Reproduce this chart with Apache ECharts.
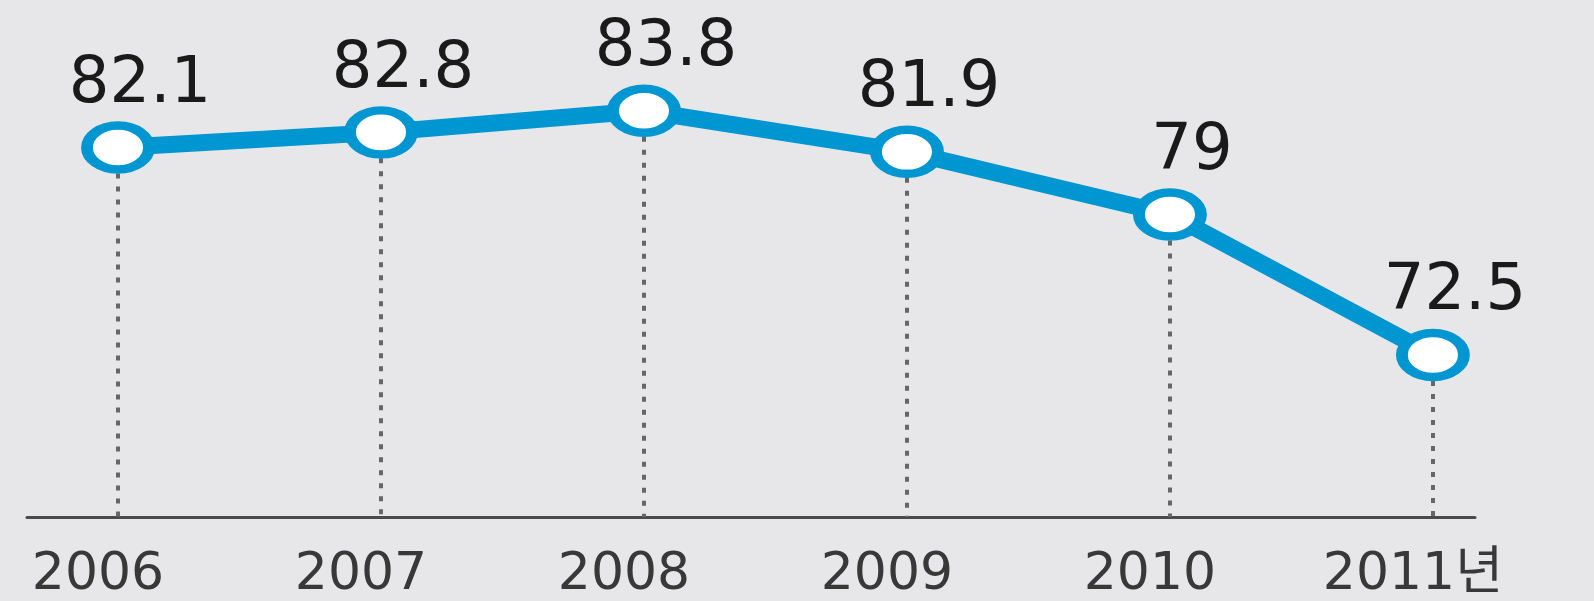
<!DOCTYPE html>
<html>
<head>
<meta charset="utf-8">
<script src="https://cdn.jsdelivr.net/npm/echarts@6/dist/echarts.min.js"></script>
<style>
html,body{margin:0;padding:0;background:#e7e7e9;}
#c{width:1594px;height:601px;}
</style>
</head>
<body>
<div id="c"></div>
<script>
const years = [2006, 2007, 2008, 2009, 2010, 2011];
const values = [82.1, 82.8, 83.8, 81.9, 79, 72.5];
const yearLabels = ['2006', '2007', '2008', '2009', '2010', '2011년'];

const yMin = 65, yMax = 88;
const blue = '#0096d1';
const pts = years.map((y, i) => [y, values[i]]);

const chart = echarts.init(document.getElementById('c'));
chart.setOption({
  backgroundColor: '#e7e7e9',
  animation: false,
  grid: { left: 27, right: 119, top: 20, bottom: 81 },
  xAxis: {
    type: 'value',
    min: 2005.654,
    max: 2011.16,
    splitLine: { show: false },
    axisTick: { show: false },
    axisLine: { show: true, lineStyle: { color: '#4a4a4a', width: 3 } },
    axisLabel: {
      customValues: years,
      margin: 32,
      formatter: v => '{a|' + yearLabels[years.indexOf(v)] + '}',
      rich: {
        a: {
          fontSize: 52,
          fontFamily: 'DejaVu Sans, Noto Sans CJK KR',
          color: '#383838',
          padding: [0, 40, 0, 0]
        }
      }
    }
  },
  yAxis: { type: 'value', min: yMin, max: yMax, show: false },
  series: [
    {
      type: 'line',
      data: pts,
      z: 1,
      showSymbol: false,
      lineStyle: { opacity: 0 },
      silent: true,
      markLine: {
        z: 1,
        silent: true,
        symbol: ['none', 'none'],
        label: { show: false },
        lineStyle: { color: '#666', width: 4, type: [5, 8] },
        data: years.map((y, i) => [{ coord: [y, values[i]] }, { coord: [y, yMin] }])
      }
    },
    {
      type: 'line',
      data: pts,
      z: 3,
      symbol: 'circle',
      symbolSize: [62, 44],
      itemStyle: { color: '#ffffff', borderColor: blue, borderWidth: 10 },
      lineStyle: { color: blue, width: 17 },
      label: {
        show: true,
        position: 'top',
        distance: 4,
        offset: [22, 0],
        formatter: p => String(p.value[1]),
        fontSize: 64,
        fontFamily: 'DejaVu Sans',
        color: '#1a1a1a'
      }
    }
  ]
});
</script>
</body>
</html>
